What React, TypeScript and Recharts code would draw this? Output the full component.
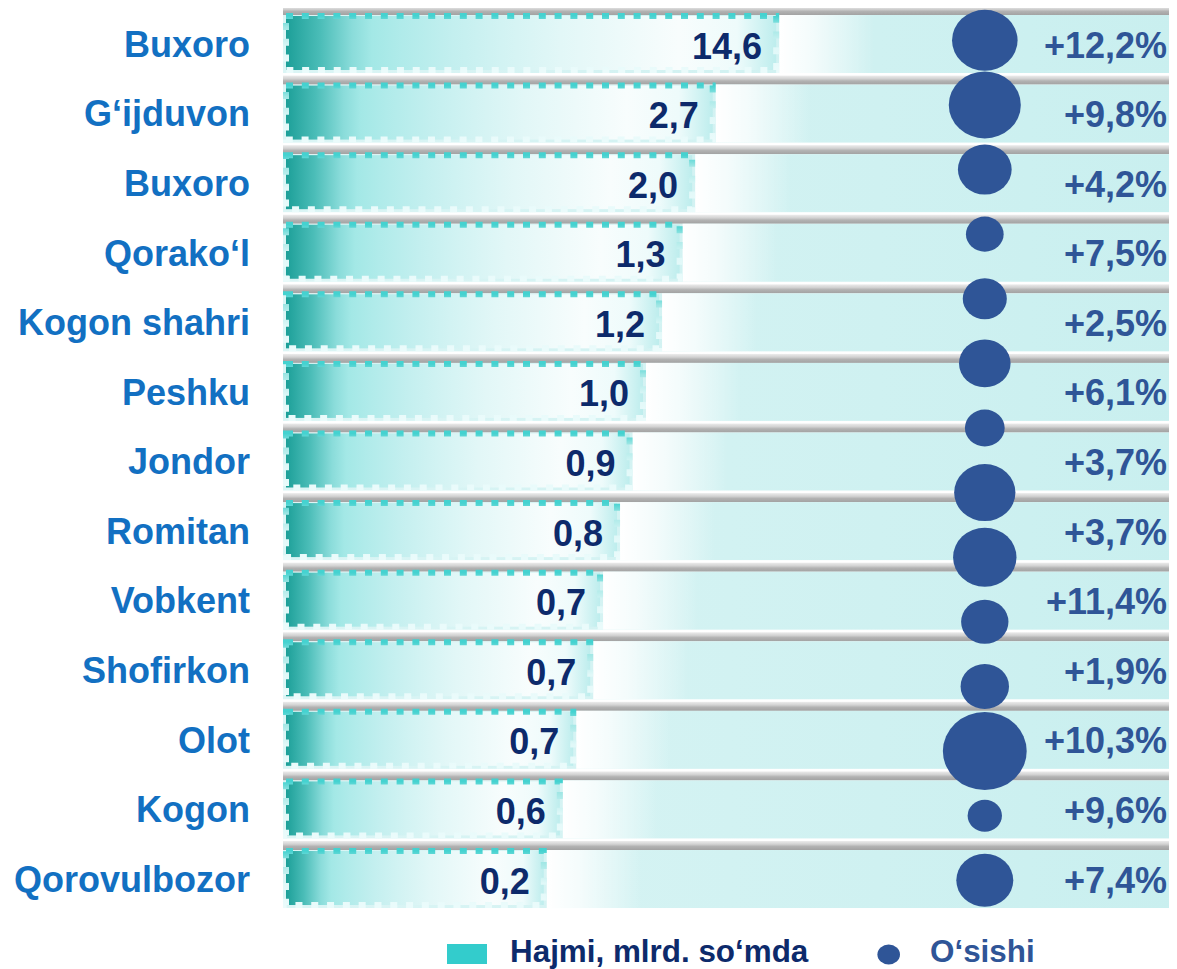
import React from 'react';
import { ComposedChart, Bar, Scatter, XAxis, YAxis, ZAxis, LabelList } from 'recharts';

const FONT = '"Liberation Sans", Arial, Helvetica, sans-serif';

// ---- data ----
const districts = [
  'Buxoro', 'G‘ijduvon', 'Buxoro', 'Qorako‘l', 'Kogon shahri', 'Peshku', 'Jondor',
  'Romitan', 'Vobkent', 'Shofirkon', 'Olot', 'Kogon', 'Qorovulbozor',
];
// Hajmi, mlrd. so‘mda (label values)
const volumes = [14.6, 2.7, 2.0, 1.3, 1.2, 1.0, 0.9, 0.8, 0.7, 0.7, 0.7, 0.6, 0.2];
// drawn bar lengths (share of axis, %)
const barLengths = [55.5, 48.4, 46.1, 44.7, 42.4, 40.6, 39.1, 37.7, 35.8, 34.7, 32.8, 31.3, 29.5];
// O‘sishi, %
const growthPct = [12.2, 9.8, 4.2, 7.5, 2.5, 6.1, 3.7, 3.7, 11.4, 1.9, 10.3, 9.6, 7.4];
// bubble sizes (area units) of the O‘sishi markers, as drawn
const bubbleSizes = [37.2, 44.9, 25.0, 12.3, 16.8, 23.0, 13.7, 32.5, 34.8, 19.4, 20.3, 60.8, 10.2, 28.1];

const fmt1 = (v: number) => v.toFixed(1).replace('.', ',');

const rows = districts.map((name, i) => ({
  name,
  volume: volumes[i],
  len: barLengths[i],
  pct: `+${fmt1(growthPct[i])}%`,
}));

const BUBBLE_COLUMN = 0.785;
const bubbleRows = bubbleSizes.map((size, i) => ({ idx: i, col: BUBBLE_COLUMN, size }));

// ---- shapes ----
function RowBackground(props: any) {
  const { x, y, width, height, payload } = props;
  return (
    <g>
      <rect x={x} y={y - 7} width={width} height={9} fill="url(#pipeGrad)" />
      <rect x={x} y={y + 2} width={width} height={height - 2} fill="url(#bandGrad)" />
      <text
        x={x + width - 10}
        y={y + height / 2 + 14.5}
        textAnchor="end"
        fill="#2F5597"
        fontSize={36}
        fontWeight="bold"
        fontFamily={FONT}
      >
        {payload && payload.pct}
      </text>
    </g>
  );
}

function VolumeBar(props: any) {
  const { x, y, width, height } = props;
  return (
    <g>
      <rect x={x + width} y={y + 2} width={95} height={height - 2} fill="url(#glowGrad)" />
      <rect
        x={x + 3}
        y={y + 3}
        width={Math.max(width - 6, 0)}
        height={height - 6}
        fill="url(#barGrad)"
        stroke="url(#barStroke)"
        strokeWidth={6}
        strokeDasharray="7 8.8"
      />
    </g>
  );
}

function ValueLabel(props: any) {
  const { x, y, width, height, value } = props;
  return (
    <text
      x={x + width - 17}
      y={y + height / 2 + 15.5}
      textAnchor="end"
      fill="#0D2A6B"
      fontSize={36}
      fontWeight="bold"
      fontFamily={FONT}
    >
      {fmt1(Number(value))}
    </text>
  );
}

function CategoryTick(props: any) {
  const { x, y, payload } = props;
  return (
    <text
      x={x}
      y={y + 14}
      textAnchor="end"
      fill="#1270C2"
      fontSize={36}
      fontWeight="bold"
      fontFamily={FONT}
    >
      {payload.value}
    </text>
  );
}

function BubbleShape(props: any) {
  const { cx, cy, width } = props;
  const r = (width || 0) / 2;
  return <ellipse cx={cx} cy={cy} rx={r * 1.075} ry={r} fill="#2F5597" />;
}

function Defs() {
  return (
    <svg width={0} height={0} style={{ position: 'absolute' }}>
      <defs>
        <linearGradient id="pipeGrad" x1="0" y1="0" x2="0" y2="1">
          <stop offset="0" stopColor="#ececec" />
          <stop offset="0.35" stopColor="#d2d2d2" />
          <stop offset="0.6" stopColor="#b2b2b2" />
          <stop offset="1" stopColor="#a2a2a2" />
        </linearGradient>
        <linearGradient id="bandGrad" x1="0" y1="0" x2="1" y2="0">
          <stop offset="0" stopColor="#dbf5f5" />
          <stop offset="1" stopColor="#c9efef" />
        </linearGradient>
        <linearGradient id="glowGrad" x1="0" y1="0" x2="1" y2="0">
          <stop offset="0" stopColor="#ffffff" stopOpacity={1} />
          <stop offset="0.35" stopColor="#ffffff" stopOpacity={0.75} />
          <stop offset="1" stopColor="#ffffff" stopOpacity={0} />
        </linearGradient>
        <linearGradient id="barGrad" x1="0" y1="0" x2="1" y2="0">
          <stop offset="0" stopColor="#1c9f98" />
          <stop offset="0.07" stopColor="#4bbdb8" />
          <stop offset="0.135" stopColor="#8adcda" />
          <stop offset="0.175" stopColor="#a3e8e6" />
          <stop offset="0.235" stopColor="#b0ebea" />
          <stop offset="0.34" stopColor="#c3efef" />
          <stop offset="0.44" stopColor="#d2f3f3" />
          <stop offset="0.56" stopColor="#e2f7f7" />
          <stop offset="0.8" stopColor="#f8fdfd" />
          <stop offset="0.92" stopColor="#eefbfb" />
          <stop offset="1" stopColor="#bdeded" />
        </linearGradient>
        <linearGradient id="barStroke" x1="0" y1="0" x2="0" y2="1">
          <stop offset="0" stopColor="#45d2d0" />
          <stop offset="0.2" stopColor="#9fe6e4" />
          <stop offset="0.6" stopColor="#e0f8f8" />
          <stop offset="1" stopColor="#eafbfb" />
        </linearGradient>
      </defs>
    </svg>
  );
}

function LegendBlock() {
  return (
    <svg
      width={1169}
      height={53}
      style={{ position: 'absolute', left: 0, top: 908 }}
    >
      <rect x={439} y={28} width={40} height={20} fill="#33CCCC" />
      <text x={502} y={46} fontSize={31.4} fontWeight="bold" fill="#0D2A6B" fontFamily={FONT}>
        Hajmi, mlrd. so‘mda
      </text>
      <ellipse cx={880.7} cy={38.5} rx={11.3} ry={10} fill="#2F5597" />
      <text x={922} y={46} fontSize={31.4} fontWeight="bold" fill="#2F5597" fontFamily={FONT}>
        O‘sishi
      </text>
    </svg>
  );
}

export default function App() {
  return (
    <div style={{ position: 'relative', width: 1169, height: 961, fontFamily: FONT }}>
      <Defs />
      <ComposedChart
        width={1169}
        height={961}
        layout="vertical"
        data={rows}
        margin={{ top: 0, right: 0, bottom: 56.4, left: 0 }}
      >
        <XAxis xAxisId="v" type="number" domain={[0, 100]} hide />
        <XAxis xAxisId="b" type="number" dataKey="col" domain={[0, 1]} hide allowDataOverflow />
        <YAxis
          yAxisId="c"
          type="category"
          dataKey="name"
          width={275}
          axisLine={false}
          tickLine={false}
          tickSize={0}
          tickMargin={33}
          interval={0}
          tick={<CategoryTick />}
        />
        <YAxis
          yAxisId="b"
          type="number"
          orientation="right"
          dataKey="idx"
          domain={[-0.5, 13.5]}
          hide
          allowDataOverflow
        />
        <ZAxis zAxisId="b" type="number" dataKey="size" domain={[0, 100]} range={[0, 7854]} />
        <Bar
          xAxisId="v"
          yAxisId="c"
          dataKey="len"
          barSize={60}
          background={(p: any) => <RowBackground {...p} />}
          shape={(p: any) => <VolumeBar {...p} />}
          isAnimationActive={false}
        >
          <LabelList dataKey="volume" content={(p: any) => <ValueLabel {...p} />} />
        </Bar>
        <Scatter
          data={bubbleRows}
          xAxisId="b"
          yAxisId="b"
          zAxisId="b"
          dataKey="col"
          shape={(p: any) => <BubbleShape {...p} />}
          isAnimationActive={false}
        />
      </ComposedChart>
      <LegendBlock />
    </div>
  );
}
